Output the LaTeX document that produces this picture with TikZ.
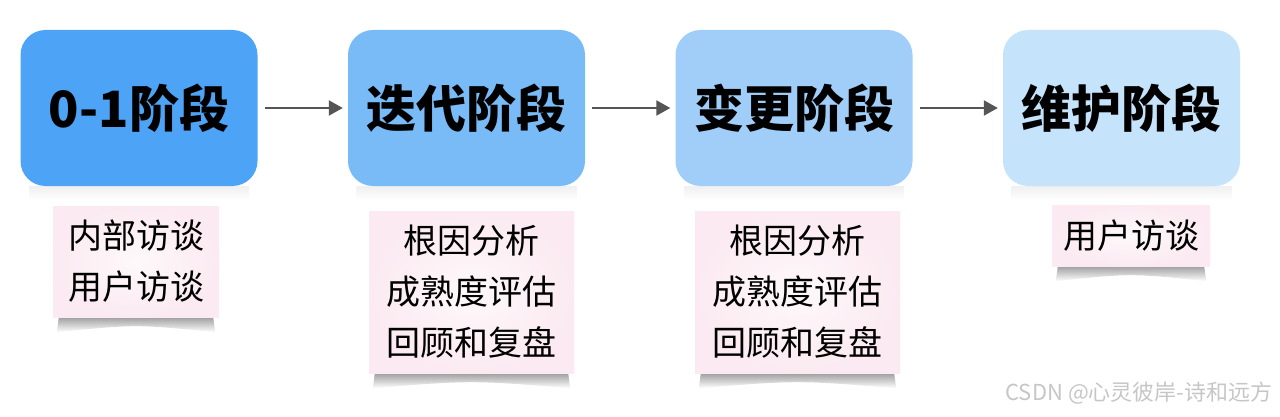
\documentclass[tikz,border=0pt]{standalone}
\usepackage{fontspec}
\newfontfamily\cjk{Noto Sans CJK SC}
\usetikzlibrary{arrows.meta}
\definecolor{cA}{RGB}{77,163,245}
\definecolor{cB}{RGB}{120,187,247}
\definecolor{cC}{RGB}{160,206,249}
\definecolor{cD}{RGB}{197,227,251}
\definecolor{notec}{RGB}{251,234,241}
\definecolor{arrowc}{RGB}{85,85,85}
\tikzset{
  stage/.style={rounded corners=25pt, minimum width=237pt, minimum height=156pt, inner sep=0pt,
    font=\cjk\bfseries\fontsize{50}{58}\selectfont, text=black},
  note/.style={inner sep=0pt, align=center, shading=radial, inner color=notec!30, outer color=notec,
    font=\cjk\fontsize{34}{51}\selectfont, text=black},
  flow/.style={draw=arrowc, line width=2.2pt, -{Triangle[length=14pt,width=15pt]}, shorten <=7pt, shorten >=5pt},
  curl/.style={top color=gray!75, bottom color=white}
}
\newcommand{\curlshadow}[1]{%
  \shade[curl] ([xshift=6pt]#1.south west) -- ([xshift=-6pt]#1.south east)
    -- ([xshift=-4pt,yshift=-15pt]#1.south east) .. controls ([yshift=-7pt]#1.south) .. ([xshift=4pt,yshift=-15pt]#1.south west) -- cycle;}
\begin{document}
\begin{tikzpicture}[x=1pt,y=-1pt]
\useasboundingbox (0,0) rectangle (1280,417);
% box shadows
\foreach \cx in {139,466.5,794,1121.5}{
  \shade[top color=gray!12, bottom color=white] (\cx-110,186) rectangle (\cx+110,200);
}
\node[stage, fill=cA] (b1) at (139,108) {0-1阶段};
\node[stage, fill=cB] (b2) at (466.5,108) {迭代阶段};
\node[stage, fill=cC] (b3) at (794,108) {变更阶段};
\node[stage, fill=cD] (b4) at (1121.5,108) {维护阶段};
\draw[flow] (b1) -- (b2);
\draw[flow] (b2) -- (b3);
\draw[flow] (b3) -- (b4);
% notes
\node[note, minimum width=166pt, minimum height=111pt] (n1) at (136,261.5) {};
\node[note, minimum width=205pt, minimum height=162pt] (n2) at (471.5,292) {};
\node[note, minimum width=205pt, minimum height=162pt] (n3) at (797.5,292) {};
\node[note, minimum width=158pt, minimum height=61pt] (n4) at (1131,235.5) {};
\curlshadow{n1}\curlshadow{n2}\curlshadow{n3}\curlshadow{n4}
\node[note, minimum width=166pt, minimum height=111pt] at (n1) {内部访谈\\用户访谈};
\node[note, minimum width=205pt, minimum height=162pt] at (n2) {根因分析\\成熟度评估\\回顾和复盘};
\node[note, minimum width=205pt, minimum height=162pt] at (n3) {根因分析\\成熟度评估\\回顾和复盘};
\node[note, minimum width=158pt, minimum height=61pt] at (n4) {用户访谈};
\node[font=\cjk\fontsize{22}{24}\selectfont, text=gray!45, anchor=east] (wm) at (1276,393) {CSDN @心灵彼岸-诗和远方};
\end{tikzpicture}
\end{document}
